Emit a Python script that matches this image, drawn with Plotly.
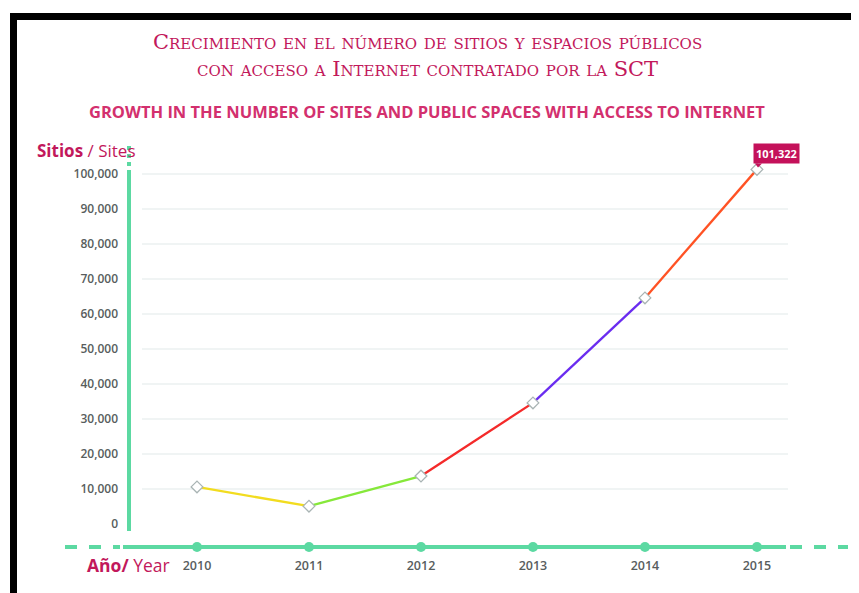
import plotly.graph_objects as go

# data
years = [2010, 2011, 2012, 2013, 2014, 2015]
sites = [10600, 5100, 13700, 34600, 64600, 101322]
segment_colors = ['#f2dc1f', '#86e83a', '#f42a2a', '#6a2cf0', '#ff5224']
y_ticks = [0, 10000, 20000, 30000, 40000, 50000, 60000, 70000, 80000, 90000, 100000]

# page body has an 8px margin, so the figure is shrunk and shifted by that much
OFF = 8
W, H = 859, 593
L, R, T, B = 142, 788, 150, 547   # plot area in page pixels
Y_RANGE = [-6570, 106860]
X_RANGE = [2009.509, 2015.277]

CRIMSON = '#c2185b'
PINK = '#d3306e'
GREEN = '#5cd9a2'
GREY = '#585d5d'
CALLOUT = '#c4115a'


def px(x):
    return (x - L) / (R - L)


def py(y):
    return (B - y) / (B - T)


fig = go.Figure()

# coloured line segments
for i, c in enumerate(segment_colors):
    fig.add_trace(go.Scatter(
        x=years[i:i + 2], y=sites[i:i + 2], mode='lines',
        line=dict(color=c, width=2.3), hoverinfo='skip', showlegend=False
    ))

# callout pointer under the last value (drawn before the markers)
shapes = [dict(type='path', xref='x', yref='y', xsizemode='pixel', ysizemode='pixel',
               xanchor=years[-1], yanchor=sites[-1],
               path='M -2 6 L 5 6 L 1 2 Z', fillcolor=CALLOUT, line=dict(width=0))]

# diamond markers
fig.add_trace(go.Scatter(
    x=years, y=sites, mode='markers',
    marker=dict(symbol='diamond', size=9, color='white',
                line=dict(color='#a9b4b4', width=1.3)),
    showlegend=False, cliponaxis=False
))

# dots on the year axis
fig.add_trace(go.Scatter(
    x=years, y=[Y_RANGE[0]] * len(years), mode='markers',
    marker=dict(symbol='circle', size=10, color=GREEN),
    showlegend=False, cliponaxis=False, hoverinfo='skip'
))

# grid lines
for v in y_ticks[1:]:
    shapes.append(dict(type='line', xref='paper', yref='y', x0=0, x1=1, y0=v, y1=v,
                       line=dict(color='#e1e9e9', width=1), layer='below'))
# green vertical axis
shapes.append(dict(type='line', xref='paper', yref='paper', x0=px(129), x1=px(129),
                   y0=py(531), y1=py(170), line=dict(color=GREEN, width=4)))
shapes.append(dict(type='line', xref='paper', yref='paper', x0=px(129), x1=px(129),
                   y0=py(166), y1=py(144), line=dict(color=GREEN, width=4, dash='dot')))
# green horizontal axis
shapes.append(dict(type='line', xref='paper', yref='paper', x0=px(123), x1=px(786),
                   y0=0, y1=0, line=dict(color=GREEN, width=4), layer='below'))
shapes.append(dict(type='line', xref='paper', yref='paper', x0=px(65), x1=px(120),
                   y0=0, y1=0, line=dict(color=GREEN, width=4, dash='dash')))
shapes.append(dict(type='line', xref='paper', yref='paper', x0=px(790), x1=px(848),
                   y0=0, y1=0, line=dict(color=GREEN, width=4, dash='dash')))
# black frame
shapes.append(dict(type='rect', xref='paper', yref='paper', x0=px(10), x1=px(W + 5),
                   y0=py(20), y1=py(13), fillcolor='black', line=dict(width=0)))
shapes.append(dict(type='rect', xref='paper', yref='paper', x0=px(10), x1=px(17),
                   y0=py(H + 5), y1=py(13), fillcolor='black', line=dict(width=0)))

annotations = [
    dict(text='Crecimiento en el número de sitios y espacios públicos<br>'
              'con acceso a Internet contratado por la SCT',
         xref='paper', yref='paper', x=px(427), y=py(28), yanchor='top', showarrow=False,
         font=dict(family='DejaVu Serif', size=21, color=CRIMSON, variant='small-caps')),
    dict(text='<b>GROWTH IN THE NUMBER OF SITES AND PUBLIC SPACES WITH ACCESS TO INTERNET</b>',
         xref='paper', yref='paper', x=px(427), y=py(98), showarrow=False,
         font=dict(family='Open Sans', size=16.5, color=PINK)),
    dict(text='<b>Sitios</b> / Sites', xref='paper', yref='paper',
         x=px(35), y=py(137), xanchor='left', showarrow=False,
         font=dict(family='Open Sans', size=17, color=CRIMSON)),
    dict(text='<b>Año/</b> Year', xref='paper', yref='paper',
         x=px(85), y=py(579), xanchor='left', showarrow=False,
         font=dict(family='Open Sans', size=17.5, color=CRIMSON)),
    # value callout
    dict(text='<b>{:,}</b>'.format(sites[-1]), x=years[-1], y=sites[-1],
         xanchor='left', yanchor='bottom', xshift=-4, yshift=5, showarrow=False,
         bgcolor=CALLOUT, borderpad=2,
         font=dict(family='Open Sans', size=11, color='white')),
]

fig.update_layout(
    width=W - OFF, height=H - OFF,
    margin=dict(l=L - OFF, r=W - R, t=T - OFF, b=H - B, pad=0),
    plot_bgcolor='white', paper_bgcolor='white',
    showlegend=False,
    shapes=shapes,
    annotations=annotations,
    xaxis=dict(range=X_RANGE, tickvals=years, showgrid=False, zeroline=False,
               showline=False, ticks='', ticklabelstandoff=9,
               tickfont=dict(family='Open Sans', size=12.5, color=GREY, weight=600)),
    yaxis=dict(range=Y_RANGE, tickvals=y_ticks, tickformat=',', showgrid=False,
               zeroline=False, showline=False, ticks='', ticklabelstandoff=23,
               tickfont=dict(family='Open Sans', size=12, color=GREY, weight=600)),
)

fig.write_html("out.html")
